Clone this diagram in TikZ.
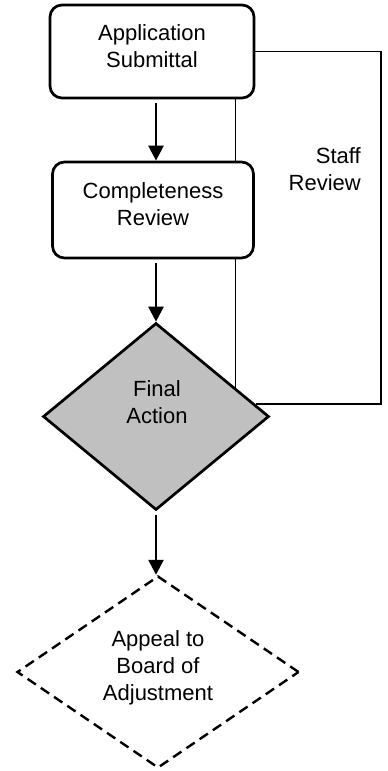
\documentclass[tikz,border=0pt]{standalone}
\usepackage{fontspec}
\setmainfont{Liberation Sans}
\usetikzlibrary{shapes.geometric,arrows.meta,backgrounds}
\definecolor{decisiongray}{HTML}{C0C0C0}
\tikzset{
  stepbox/.style={draw, line width=2.7pt, rounded corners=12pt, fill=white,
    inner sep=0pt},
  decision/.style={draw, diamond, line width=2.7pt, fill=decisiongray,
    inner sep=0pt},
  appeal/.style={draw, diamond, line width=2.4pt, dash pattern=on 10pt off 6pt,
    inner sep=0pt},
  caption/.style={inner sep=0pt, align=center,
    font=\fontsize{22}{27}\selectfont},
  flow/.style={line width=2.5pt, shorten <=4pt,
    -{Triangle[length=15pt,width=15pt]}},
  loop/.style={line width=1.9pt},
}
\begin{document}
\begin{tikzpicture}[x=1pt, y=-1pt]
  \useasboundingbox (0,0) rectangle (388,771);

  % process boxes
  \node[stepbox, minimum width=204pt, minimum height=93pt] (sub) at (152,51.5) {};
  \node[caption] (subtxt) at (152,46) {Application\\Submittal};

  \node[stepbox, minimum width=201pt, minimum height=96pt] (crv) at (153,210) {};
  \node[caption] (crvtxt) at (153,204) {Completeness\\Review};

  % decisions
  \node[decision, minimum width=226pt, minimum height=187pt] (fa) at (156,416.5) {};
  \node[caption] (fatxt) at (157,402) {Final\\Action};

  \node[appeal, minimum width=282pt, minimum height=192pt] (ap) at (158,672) {};
  \node[caption] (aptxt) at (158,668) {Appeal to\\Board of\\Adjustment};

  % staff review loop
  \coordinate (loopbot) at (381,404);
  \node[caption, align=right, anchor=east] (staff) at (361,169) {Staff\\Review};

  \begin{pgfonlayer}{background}
    \draw[loop] (sub.east) -| (loopbot) -- (loopbot -| fa.7);
    \draw[loop] (fa.20 |- sub.south) -- (fa.20);
  \end{pgfonlayer}

  % main flow
  \draw[flow] (sub.south -| fa.north) -- (crv.north -| fa.north);
  \draw[flow] (crv.south -| fa.north) -- (fa.north);
  \draw[flow] (fa.south) -- (fa.south |- ap.north);
\end{tikzpicture}
\end{document}
